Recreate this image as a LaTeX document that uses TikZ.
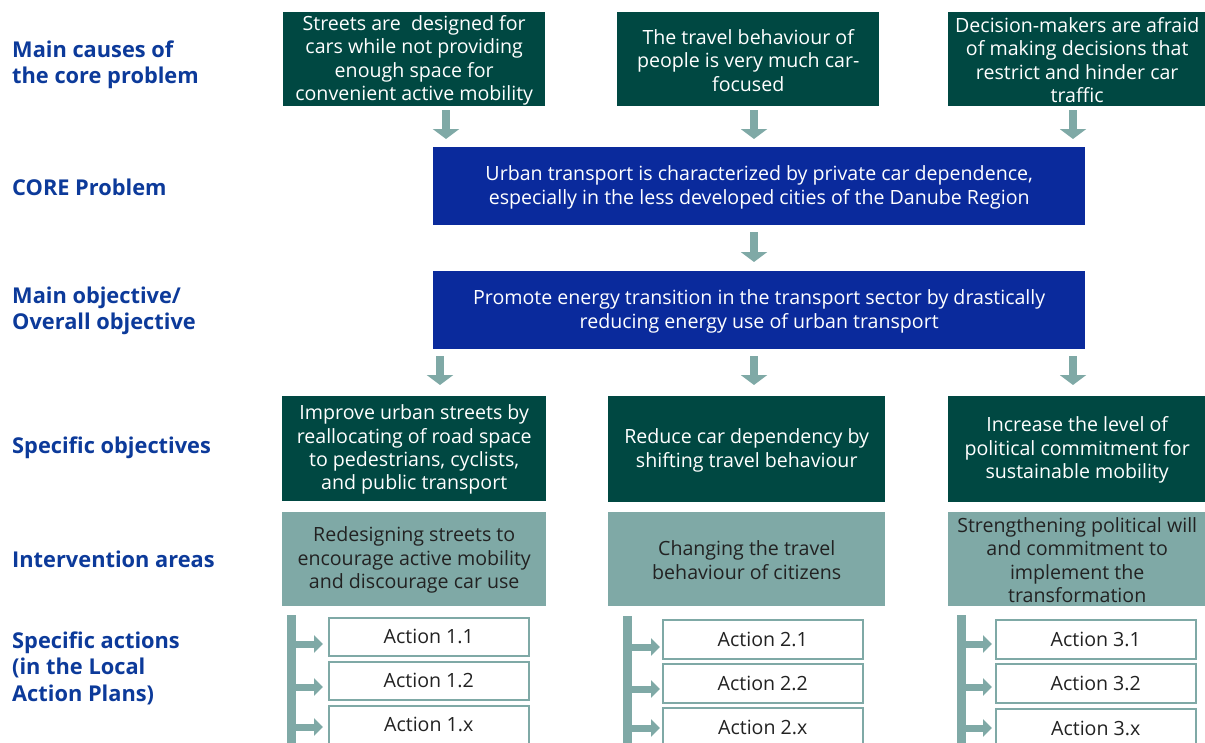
\documentclass[tikz,border=0pt]{standalone}
\usepackage{fontspec}
\setmainfont{Open Sans}
\usetikzlibrary{arrows.meta}
\definecolor{dkgreen}{RGB}{0,72,66}
\definecolor{coreblue}{RGB}{10,42,156}
\definecolor{lblblue}{RGB}{12,58,154}
\definecolor{teal}{RGB}{127,169,166}
\definecolor{inktext}{RGB}{34,34,34}
% a taller first line sets the text block slightly lower in its box
\newcommand{\boxlead}{\rule{0pt}{17pt}}
\tikzset{
  box/.style={rectangle, inner sep=0pt, align=center, anchor=north west,
    font=\fontsize{19.6}{23.4}\selectfont},
  greenbox/.style={box, fill=dkgreen, text=white},
  bluebox/.style={box, fill=coreblue, text=white},
  areabox/.style={box, fill=teal, text=inktext},
  actbox/.style={box, draw=teal, line width=1.5pt, fill=white, text=inktext},
  rowlabel/.style={anchor=west, align=left, inner sep=0pt, text=lblblue,
    font=\fontsize{21.8}{26.5}\selectfont\bfseries},
  blockarrow/.style={draw=teal, line width=7.5pt,
    -{Triangle[width=26pt,length=10pt]}},
  bracketbar/.style={draw=teal, line width=9pt},
  branch/.style={draw=teal, line width=7pt,
    -{Triangle[width=17pt,length=9pt]}},
}
\begin{document}
\begin{tikzpicture}[x=1pt,y=-1pt]
\useasboundingbox (0,0) rectangle (1205,742);
\clip (0,0) rectangle (1205,742);

% row labels
\node[rowlabel] (l1) at (12,65) {Main causes of\\the core problem};
\node[rowlabel] (l2) at (12,187) {CORE Problem};
\node[rowlabel] (l3) at (12,311) {Main objective/\\Overall objective};
\node[rowlabel] (l4) at (12,448) {Specific objectives};
\node[rowlabel] (l5) at (12,559) {Intervention areas};
\node[rowlabel] (l6) at (12,668) {Specific actions\\(in the Local\\Action Plans)};

% causes
\node[greenbox, minimum width=262pt, minimum height=94pt] (ca) at (283,12)
  {\boxlead Streets are\ \ designed for\\cars while not providing\\enough space for\\convenient active mobility};
\node[greenbox, minimum width=262pt, minimum height=94pt] (cb) at (617,12)
  {\boxlead The travel behaviour of\\people is very much car-\\focused};
\node[greenbox, minimum width=258pt, minimum height=94pt] (cc) at (948,12)
  {\boxlead Decision-makers are afraid\\of making decisions that\\restrict and hinder car\\traffic};

% core problem and main objective
\node[bluebox, minimum width=652pt, minimum height=78pt] (core) at (433,147)
  {\boxlead Urban transport is characterized by private car dependence,\\especially in the less developed cities of the Danube Region};
\node[bluebox, minimum width=652pt, minimum height=78pt] (obj) at (433,271)
  {\boxlead Promote energy transition in the transport sector by drastically\\reducing energy use of urban transport};

% specific objectives
\node[greenbox, minimum width=264pt, minimum height=105pt] (sa) at (282,396)
  {\boxlead Improve urban streets by\\reallocating of road space\\to pedestrians, cyclists,\\and public transport};
\node[greenbox, minimum width=277pt, minimum height=106pt] (sb) at (608,396)
  {\boxlead Reduce car dependency by\\shifting travel behaviour};
\node[greenbox, minimum width=258pt, minimum height=106pt] (sc) at (948,396)
  {\boxlead Increase the level of\\political commitment for\\sustainable mobility};

% intervention areas
\node[areabox, minimum width=264pt, minimum height=94pt] (ia) at (282,512)
  {\boxlead Redesigning streets to\\encourage active mobility\\and discourage car use};
\node[areabox, minimum width=277pt, minimum height=94pt] (ib) at (608,512)
  {\boxlead Changing the travel\\behaviour of citizens};
\node[areabox, minimum width=258pt, minimum height=94pt] (ic) at (948,512)
  {\boxlead Strengthening political will\\and commitment to\\implement the\\transformation};

% actions
\node[actbox, minimum width=200pt, minimum height=38pt] (a11) at (328,617) {Action 1.1};
\node[actbox, minimum width=200pt, minimum height=38pt] (a12) at (328,661) {Action 1.2};
\node[actbox, minimum width=200pt, minimum height=38pt] (a1x) at (328,705) {Action 1.x};
\node[actbox, minimum width=200pt, minimum height=39pt] (a21) at (662,619) {Action 2.1};
\node[actbox, minimum width=200pt, minimum height=39pt] (a22) at (662,663) {Action 2.2};
\node[actbox, minimum width=200pt, minimum height=39pt] (a2x) at (662,707) {Action 2.x};
\node[actbox, minimum width=200pt, minimum height=39pt] (a31) at (995,619) {Action 3.1};
\node[actbox, minimum width=200pt, minimum height=39pt] (a32) at (995,663) {Action 3.2};
\node[actbox, minimum width=200pt, minimum height=39pt] (a3x) at (995,708) {Action 3.x};

% arrow columns
\coordinate (xa) at (446,0);
\coordinate (xb) at (754,0);
\coordinate (xc) at (1073,0);
\coordinate (xd) at (440,0);

% causes -> core problem
\draw[blockarrow, shorten <=4pt, shorten >=8pt] (ca.south -| xa) -- (core.north -| xa);
\draw[blockarrow, shorten <=4pt, shorten >=8pt] (cb.south -| xb) -- (core.north -| xb);
\draw[blockarrow, shorten <=4pt, shorten >=8pt] (cc.south -| xc) -- (core.north -| xc);
% core problem -> objective
\draw[blockarrow, shorten <=7pt, shorten >=9pt] (core.south -| xb) -- (obj.north -| xb);
% objective -> specific objectives
\draw[blockarrow, shorten <=7pt, shorten >=11pt] (obj.south -| xd) -- (sa.north -| xd);
\draw[blockarrow, shorten <=7pt, shorten >=11pt] (obj.south -| xb) -- (sb.north -| xb);
\draw[blockarrow, shorten <=7pt, shorten >=11pt] (obj.south -| xc) -- (sc.north -| xc);

% action brackets
\coordinate (b1) at (291.5,615);
\coordinate (b2) at (627.5,616);
\coordinate (b3) at (961.5,615);
\draw[bracketbar] (b1) -- (b1 |- 0,750);
\draw[bracketbar] (b2) -- (b2 |- 0,750);
\draw[bracketbar] (b3) -- (b3 |- 0,750);

\draw[branch, shorten >=5pt] (b1 |- 0,644) -- (a11.west |- 0,644);
\draw[branch, shorten >=5pt] (b1 |- 0,687) -- (a12.west |- 0,687);
\draw[branch, shorten >=5pt] (b1 |- 0,727) -- (a1x.west |- 0,727);
\draw[branch, shorten >=2pt] (b2 |- 0,647) -- (a21.west |- 0,647);
\draw[branch, shorten >=2pt] (b2 |- 0,689) -- (a22.west |- 0,689);
\draw[branch, shorten >=2pt] (b2 |- 0,728) -- (a2x.west |- 0,728);
\draw[branch, shorten >=3pt] (b3 |- 0,644) -- (a31.west |- 0,644);
\draw[branch, shorten >=3pt] (b3 |- 0,687) -- (a32.west |- 0,687);
\draw[branch, shorten >=3pt] (b3 |- 0,728) -- (a3x.west |- 0,728);
\end{tikzpicture}
\end{document}
